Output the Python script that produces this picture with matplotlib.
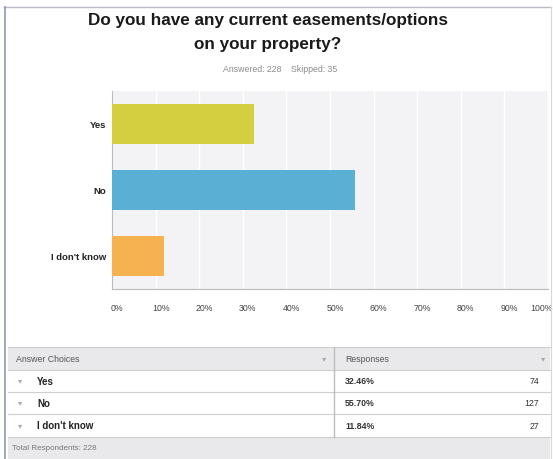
import matplotlib
matplotlib.use("Agg")
import matplotlib.pyplot as plt
import matplotlib.transforms as mtransforms
from matplotlib.patches import Rectangle
from matplotlib.lines import Line2D

choices = ["Yes", "No", "I don't know"]
percents = [32.46, 55.70, 11.84]
counts = [74, 127, 27]
bar_colors = ["#d3cf41", "#59afd4", "#f6b250"]
tick_vals = [0, 10, 20, 30, 40, 50, 60, 70, 80, 90, 100]
answered = 228
skipped = 35

W, H = 553, 460
plt.rcParams["font.family"] = ["Liberation Sans", "DejaVu Sans"]

fig = plt.figure(figsize=(W / 100, H / 100), dpi=100)


def px(x, y):
    # pixel coords (top-left origin) -> figure fraction
    return x / W, 1 - y / H


def hline(y, x0, x1, color="#cfcfcf", lw=0.8):
    a, b = px(x0, y)
    c, _ = px(x1, y)
    fig.add_artist(Line2D([a, c], [b, b], color=color, lw=lw, transform=fig.transFigure))


def vline(x, y0, y1, color="#cfcfcf", lw=0.8):
    a, b = px(x, y0)
    _, d = px(x, y1)
    fig.add_artist(Line2D([a, a], [b, d], color=color, lw=lw, transform=fig.transFigure))


def box(x0, y0, x1, y1, color):
    a, b = px(x0, y1)
    fig.add_artist(Rectangle((a, b), (x1 - x0) / W, (y1 - y0) / H,
                             transform=fig.transFigure, color=color, lw=0, zorder=0))


# outer frame
hline(8, 4, 551, color="#b9bcc4", lw=1.0)
vline(5, 8, 460, color="#8c9ab8", lw=1.2)
vline(551, 8, 460, color="#d8d8d8", lw=0.8)

fig.text(*px(268, 21), "Do you have any current easements/options",
         ha="center", va="center", fontsize=12.3, fontweight="bold", color="#1a1a1a")
fig.text(*px(268, 45), "on your property?",
         ha="center", va="center", fontsize=12.3, fontweight="bold", color="#1a1a1a")
fig.text(*px(280, 70), f"Answered: {answered}    Skipped: {skipped}",
         ha="center", va="center", fontsize=6.3, color="#8a8a8a")

# bar chart
l, t = px(112, 92)
r, b = px(548, 290)
ax = fig.add_axes([l, b, r - l, t - b])
ax.set_facecolor("#f3f3f5")
ypos = list(range(len(choices)))
ax.barh(ypos, percents, height=0.62, color=bar_colors, zorder=3)
ax.set_xlim(0, 100)
ax.set_ylim(len(choices) - 0.5, -0.5)
ax.set_yticks(ypos)
ax.set_yticklabels(choices, fontsize=6.8, fontweight="bold", color="#222222")
ax.set_xticks(tick_vals)
ax.set_xticklabels([f"{v}%" for v in tick_vals], fontsize=6.3, color="#444444")
ax.tick_params(length=0, pad=10)
ax.tick_params(axis="y", pad=4)
shift = mtransforms.ScaledTranslation(5 / 100, 0, fig.dpi_scale_trans)
xlabels = ax.get_xticklabels()
for lab in xlabels:
    lab.set_transform(lab.get_transform() + shift)
xlabels[-1].set_horizontalalignment("right")
ax.grid(axis="x", color="white", lw=1.0, zorder=1)
for side in ["top", "right"]:
    ax.spines[side].set_visible(False)
ax.spines["left"].set_color("#bbbbbb")
ax.spines["bottom"].set_color("#bbbbbb")
ax.spines["left"].set_linewidth(0.8)
ax.spines["bottom"].set_linewidth(0.8)

# response table
tx0, tx1, tdiv = 8, 550, 334
row_edges = [348, 371, 393, 415, 438]
box(tx0, 348, tx1, 371, "#e9e9eb")
box(tx0, 438, tx1, 460, "#e9e9eb")
for y in row_edges:
    hline(y, tx0, tx1)
vline(tdiv, 348, 438, color="#bdbdbd", lw=1.0)

hy = (row_edges[0] + row_edges[1]) / 2
fig.text(*px(16, hy), "Answer Choices", ha="left", va="center", fontsize=6.3, color="#555555")
fig.text(*px(324, hy), "▾", ha="center", va="center", fontsize=6, color="#aaaaaa")
fig.text(*px(345, hy), "Responses", ha="left", va="center", fontsize=6.3, color="#555555")
fig.text(*px(543, hy), "▾", ha="center", va="center", fontsize=6, color="#aaaaaa")

for i, (c, p, n) in enumerate(zip(choices, percents, counts)):
    cy = (row_edges[i + 1] + row_edges[i + 2]) / 2
    fig.text(*px(20, cy), "▾", ha="center", va="center", fontsize=6, color="#aaaaaa")
    fig.text(*px(37, cy), c, ha="left", va="center", fontsize=7, fontweight="bold", color="#222222")
    fig.text(*px(345, cy), f"{p:.2f}%", ha="left", va="center", fontsize=6.3, fontweight="bold", color="#333333")
    fig.text(*px(539, cy), str(n), ha="right", va="center", fontsize=6.3, color="#333333")

fig.text(*px(12, 449), f"Total Respondents: {answered}", ha="left", va="center",
         fontsize=5.8, color="#777777")

fig.savefig("out.png", dpi=100)
